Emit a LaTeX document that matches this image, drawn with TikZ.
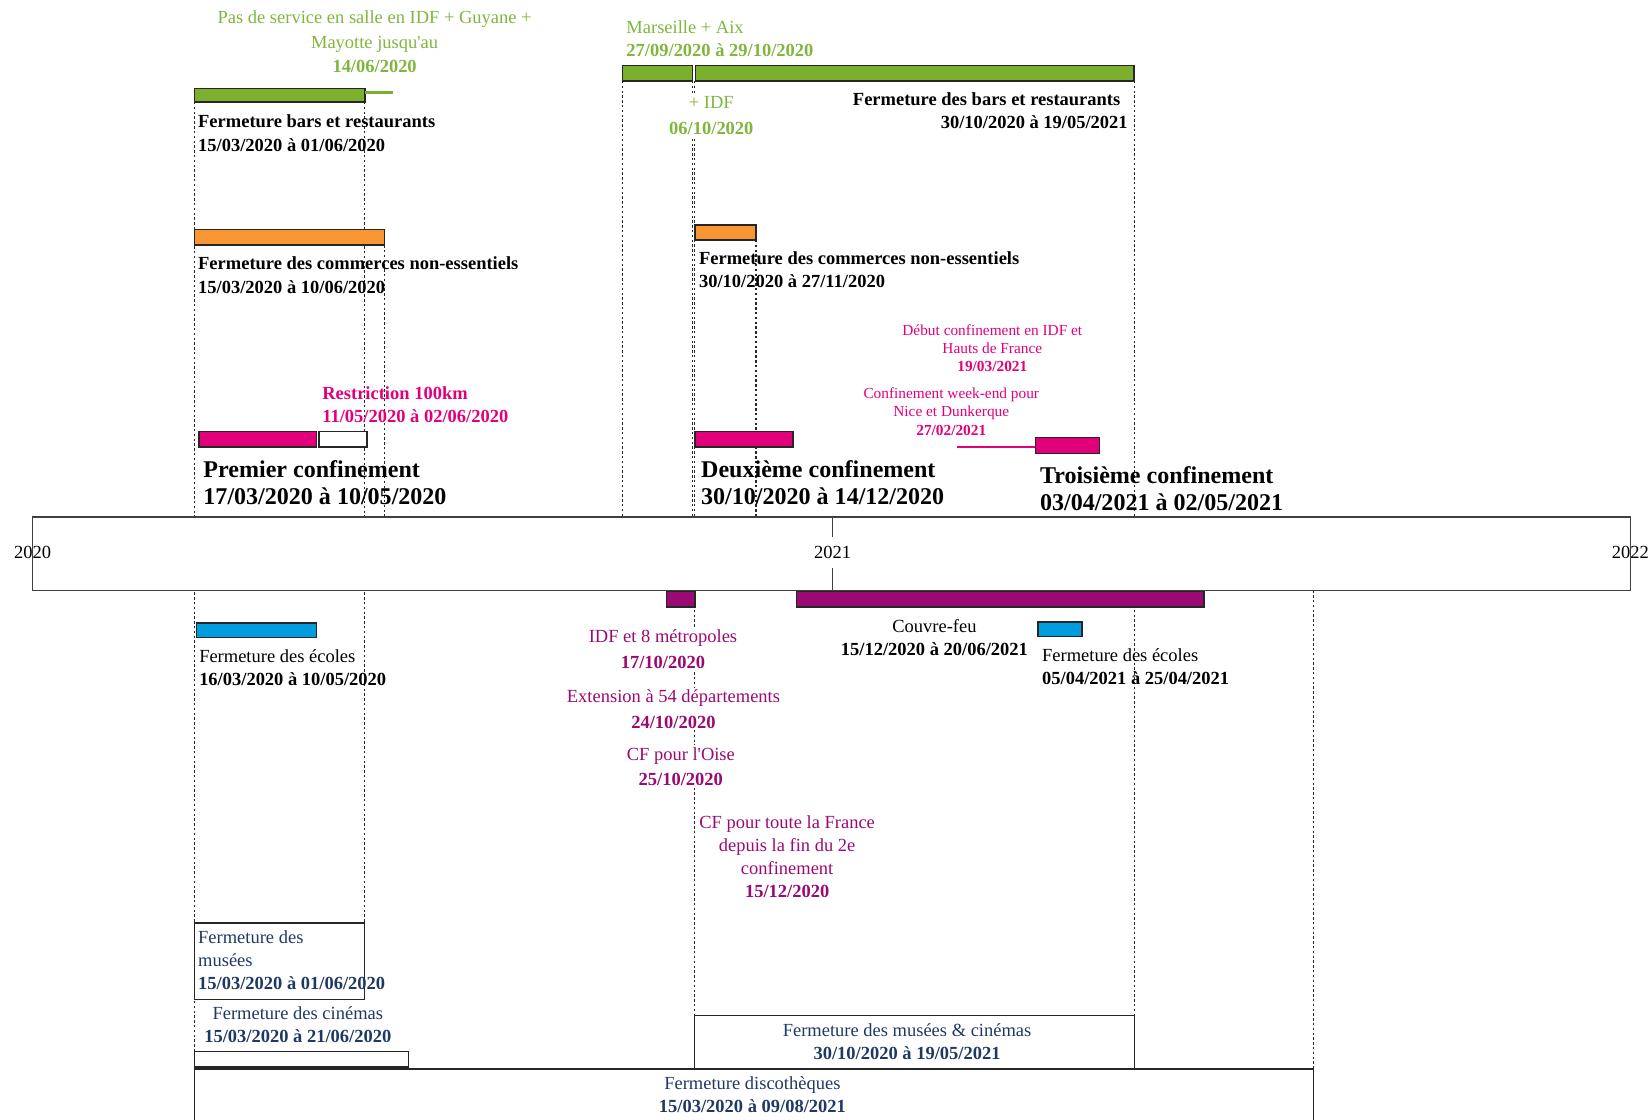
\documentclass[tikz,border=0pt]{standalone}
\usepackage{fontspec}
\setmainfont{Liberation Serif}
\usepackage{xcolor}
\usetikzlibrary{positioning}
\definecolor{cgreen}{RGB}{122,176,46}
\definecolor{cgreentxt}{RGB}{128,182,62}
\definecolor{corange}{RGB}{247,150,50}
\definecolor{cpink}{RGB}{226,0,122}
\definecolor{cpurple}{RGB}{155,10,115}
\definecolor{cblue}{RGB}{0,157,222}
\definecolor{cnavy}{RGB}{31,56,100}

\begin{document}
\begin{tikzpicture}[
  x=0.02cm, y=-0.02cm,
  guide/.style={draw=black!85, line width=0.65pt, dash pattern=on 1.3pt off 1.3pt},
  bar/.style={draw=black!85, line width=0.8pt},
  lbl/.style={inner sep=0pt, align=left, font=\fontsize{10}{12.5}\selectfont},
  blbl/.style={lbl, font=\fontsize{10}{12.5}\selectfont\bfseries},
  big/.style={inner sep=0pt, align=left, font=\fontsize{13}{14.8}\selectfont\bfseries},
  small/.style={inner sep=0pt, align=center, text=cpink, font=\fontsize{8.3}{9.9}\selectfont},
  cf/.style={inner sep=1pt, align=center, text=cpurple, fill=white, font=\fontsize{10}{14}\selectfont},
  year/.style={inner sep=1pt, font=\fontsize{10}{12}\selectfont}
]

\useasboundingbox (0,0) rectangle (1568,1064);

% dotted date lines
\foreach \x/\a/\b in {184.7/97/999, 346.7/97/877, 365.4/233/491, 591.8/77/491,
  658.2/77/491, 660.3/77/965, 718.5/228/491, 1077.8/77/965, 1248.2/561/1016}
  \draw[guide] (\x,\a) -- (\x,\b);

% time axis
\draw[line width=0.9pt, draw=black!75, fill=white] (31,491) rectangle (1549.3,561);
\draw[line width=0.9pt, draw=black!75] (791.2,491) -- (791.2,561);
\node[year] (y2020) at (31,525) {2020};
\node[year, fill=white, inner ysep=5pt] (y2021) at (791.2,525) {2021};
\node[year] (y2022) at (1549.3,525) {2022};

% bars above
\draw[bar, fill=cgreen] (184.7,84) rectangle (346.7,97);
\draw[cgreen, line width=1.2pt] (346.7,88) -- (373.7,88);
\draw[bar, fill=corange] (184.7,218) rectangle (365.4,233);
\draw[bar, fill=cpink] (188.9,410) rectangle (301,425);
\draw[bar, fill=white] (303.1,410) rectangle (348.8,425);
\draw[bar, fill=cgreen] (591.8,62) rectangle (658.2,77);
\draw[bar, fill=cgreen] (660.8,62) rectangle (1077.8,77);
\draw[bar, fill=corange] (660.3,214) rectangle (718.5,228);
\draw[bar, fill=cpink] (660.3,410) rectangle (753.8,425);
\draw[cpink, line width=1.2pt] (909.6,425) -- (984,425);
\draw[bar, fill=cpink] (984,416) rectangle (1045,431);

% bars below
\draw[bar, fill=cpurple] (633.3,562) rectangle (660.3,577);
\draw[bar, fill=cpurple] (757,562) rectangle (1144.3,577);
\draw[bar, fill=cblue] (186.8,592) rectangle (301,606);
\draw[bar, fill=cblue] (986.4,591) rectangle (1028,605);
\draw[bar, line width=0.7pt] (184.7,877) rectangle (346.7,950);
\draw[bar, fill=white] (184.7,999) rectangle (388.2,1014);
\draw[bar, line width=0.7pt] (660.3,965) rectangle (1077.8,1016);
\draw[bar, line width=0.7pt] (184.7,1064) |- (1248.2,1016) -- (1248.2,1064);

% labels above
\node[lbl, text=cgreentxt, align=center, font=\fontsize{10}{13.3}\selectfont, anchor=north] (pasIDF) at (356,10) {Pas de service en salle en IDF + Guyane +\\Mayotte jusqu\textquotesingle au\\\textbf{14/06/2020}};
\node[blbl, anchor=north west] (barsA) at (188,109) {Fermeture bars et restaurants\\15/03/2020 à 01/06/2020};
\node[blbl, anchor=north west] (commA) at (188,244) {Fermeture des commerces non-essentiels\\15/03/2020 à 10/06/2020};
\node[blbl, text=cpink, anchor=north west] (km100) at (306,367) {Restriction 100km\\11/05/2020 à 02/06/2020};
\node[big, anchor=north west] (conf1) at (193,437) {Premier confinement\\17/03/2020 à 10/05/2020};

\node[lbl, text=cgreentxt, anchor=north west] (marseille) at (595,19) {Marseille + Aix\\\textbf{27/09/2020 à 29/10/2020}};
\node[lbl, text=cgreentxt, fill=white, inner sep=1.5pt, align=center, font=\fontsize{10}{14}\selectfont, anchor=north] (plusIDF) at (676,89) {+ IDF\\\textbf{06/10/2020}};
\node[blbl, align=right, anchor=north east] (barsB) at (1072,88) {Fermeture des bars et restaurants\hspace*{4pt}\\30/10/2020 à 19/05/2021};
\node[blbl, anchor=north west] (commB) at (664,239) {Fermeture des commerces non-essentiels\\30/10/2020 à 27/11/2020};
\node[big, anchor=north west] (conf2) at (666,437) {Deuxième confinement\\30/10/2020 à 14/12/2020};

\node[small, anchor=north] (debutIDF) at (943,308) {Début confinement en IDF et\\Hauts de France\\\textbf{19/03/2021}};
\node[small, anchor=north] (weekend) at (904,368) {Confinement week-end pour\\Nice et Dunkerque\\\textbf{27/02/2021}};
\node[big, anchor=north west] (conf3) at (988,443) {Troisième confinement\\03/04/2021 à 02/05/2021};

% labels below
\node[lbl, align=center, anchor=north] (couvre) at (888,588) {Couvre-feu\\\textbf{15/12/2020 à 20/06/2021}};
\node[lbl, anchor=north west] (ecoleA) at (189,617) {Fermeture des écoles\\\textbf{16/03/2020 à 10/05/2020}};
\node[lbl, anchor=north west] (ecoleB) at (990,616) {Fermeture des écoles\\\textbf{05/04/2021 à 25/04/2021}};
\node[cf, anchor=north] (metro) at (630,596) {IDF et 8 métropoles\\\textbf{17/10/2020}};
\node[cf, anchor=north] (dep54) at (640,653) {Extension à 54 départements\\\textbf{24/10/2020}};
\node[cf, anchor=north] (oise) at (647,708) {CF pour l\textquotesingle Oise\\\textbf{25/10/2020}};
\node[cf, fill=none, font=\fontsize{10}{12.5}\selectfont, anchor=north] (cftoute) at (748,773) {CF pour toute la France\\depuis la fin du 2e\\confinement\\\textbf{15/12/2020}};

\node[lbl, text=cnavy, anchor=north west] (museesA) at (188,884) {Fermeture des\\musées\\\textbf{15/03/2020 à 01/06/2020}};
\node[lbl, text=cnavy, align=center, anchor=north] (cinemaA) at (283,956) {Fermeture des cinémas\\\textbf{15/03/2020 à 21/06/2020}};
\node[lbl, text=cnavy, align=center, anchor=north] (mcB) at (862,972) {Fermeture des musées \& cinémas\\\textbf{30/10/2020 à 19/05/2021}};
\node[lbl, text=cnavy, align=center, anchor=north] (disco) at (715,1023) {Fermeture discothèques\\\textbf{15/03/2020 à 09/08/2021}};

\end{tikzpicture}
\end{document}
